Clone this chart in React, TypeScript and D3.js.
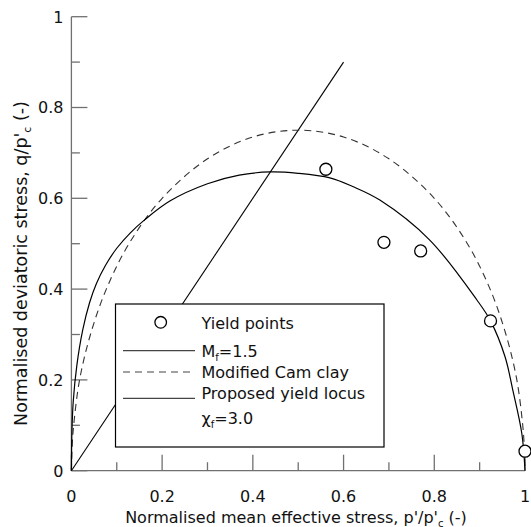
import * as d3 from "d3"

// axis ticks (normalised, 0..1)
const majorTicks = [0, 0.2, 0.4, 0.6, 0.8, 1]
const minorTicks = [0.1, 0.3, 0.5, 0.7, 0.9]

// measured yield points, p'/p'c and q/p'c
const yieldP = [0.561, 0.689, 0.77, 0.924, 1.0]
const yieldQ = [0.664, 0.503, 0.484, 0.33, 0.043]

// critical state line Mf = 1.5
const mfP = [0, 0.6]
const mfQ = [0, 0.9]

// modified Cam clay ellipse
const mccP = [0, 0.002, 0.005, 0.018, 0.042, 0.077, 0.127, 0.2, 0.3, 0.4, 0.5, 0.6, 0.7, 0.8, 0.873, 0.923, 0.958, 0.982, 0.995, 0.998, 1]
const mccQ = [0, 0.06, 0.1, 0.2, 0.3, 0.4, 0.5, 0.6, 0.687, 0.735, 0.75, 0.735, 0.687, 0.6, 0.5, 0.4, 0.3, 0.2, 0.1, 0.06, 0]

// proposed yield locus, chi_f = 3.0
const locusP = [0, 0.001, 0.004, 0.012, 0.025, 0.04, 0.055, 0.075, 0.1, 0.13, 0.162, 0.217, 0.3, 0.37, 0.438, 0.5, 0.57, 0.62, 0.68, 0.79, 0.894, 0.924, 0.956, 0.973, 0.993, 1]
const locusQ = [0, 0.08, 0.152, 0.232, 0.31, 0.37, 0.412, 0.452, 0.49, 0.524, 0.553, 0.594, 0.632, 0.651, 0.658, 0.655, 0.645, 0.626, 0.596, 0.508, 0.376, 0.33, 0.251, 0.178, 0.082, 0]

const W = 531
const H = 527
const FONT = "DejaVu Sans, Verdana, sans-serif"
const AXIS = "#707070"

export default function App() {
  const x = d3.scaleLinear().domain([0, 1]).range([71.4, 525])
  const y = d3.scaleLinear().domain([0, 1]).range([470.7, 16.7])

  const line = d3
    .line<[number, number]>()
    .x((d) => x(d[0]))
    .y((d) => y(d[1]))
    .curve(d3.curveCatmullRom.alpha(0.5))

  const straight = d3
    .line<[number, number]>()
    .x((d) => x(d[0]))
    .y((d) => y(d[1]))

  const mccPath = line(mccP.map((p, i) => [p, mccQ[i]])) as string
  const locusPath = line(locusP.map((p, i) => [p, locusQ[i]])) as string
  const mfPath = straight(mfP.map((p, i) => [p, mfQ[i]])) as string

  // legend box
  const lg = { x: 115.5, y: 304, w: 268.5, h: 143 }
  const lx0 = 123
  const lx1 = 195
  const tx = 201.5

  return (
    <svg
      width={W}
      height={H}
      style={{ position: "absolute", left: 0, top: 0, background: "#fff" }}
      fontFamily={FONT}
    >
      {/* axes */}
      <line x1={x(0)} x2={x(1)} y1={y(0)} y2={y(0)} stroke={AXIS} strokeWidth={1.3} />
      <line x1={x(0)} x2={x(0)} y1={y(0)} y2={y(1)} stroke={AXIS} strokeWidth={1.3} />
      {majorTicks.map((t) => (
        <g key={"mx" + t}>
          <line x1={x(t)} x2={x(t)} y1={y(0)} y2={y(0) - 16} stroke={AXIS} strokeWidth={1.3} />
          <text x={x(t)} y={501.5} textAnchor="middle" fontSize={16} fill="#111">
            {t === 0 || t === 1 ? t : t.toFixed(1)}
          </text>
        </g>
      ))}
      {minorTicks.map((t) => (
        <line key={"nx" + t} x1={x(t)} x2={x(t)} y1={y(0)} y2={y(0) - 8.5} stroke={AXIS} strokeWidth={1.3} />
      ))}
      {majorTicks.map((t) => (
        <g key={"my" + t}>
          <line x1={x(0)} x2={x(0) + 16} y1={y(t)} y2={y(t)} stroke={AXIS} strokeWidth={1.3} />
          <text x={63.5} y={y(t) + 5.8} textAnchor="end" fontSize={16} fill="#111">
            {t === 0 || t === 1 ? t : t.toFixed(1)}
          </text>
        </g>
      ))}
      {minorTicks.map((t) => (
        <line key={"ny" + t} x1={x(0)} x2={x(0) + 8.5} y1={y(t)} y2={y(t)} stroke={AXIS} strokeWidth={1.3} />
      ))}

      {/* axis titles */}
      <text x={296} y={522.5} textAnchor="middle" fontSize={16} fill="#111">
        Normalised mean effective stress, p'/p'
        <tspan fontSize={10} dy={4}>c</tspan>
        <tspan dy={-4}> (-)</tspan>
      </text>
      <text
        transform={`translate(26.5, 263.5) rotate(-90)`}
        textAnchor="middle"
        fontSize={17.5}
        fill="#111"
      >
        Normalised deviatoric stress, q/p'
        <tspan fontSize={11} dy={4}>c</tspan>
        <tspan dy={-4}> (-)</tspan>
      </text>

      {/* curves */}
      <path d={mfPath} fill="none" stroke="#000" strokeWidth={1.1} />
      <path d={mccPath} fill="none" stroke="#333" strokeWidth={1.1} strokeDasharray="7,5" />
      <path d={locusPath} fill="none" stroke="#000" strokeWidth={1.2} />
      {yieldP.map((p, i) => (
        <circle key={i} cx={x(p)} cy={y(yieldQ[i])} r={6} fill="#fff" stroke="#000" strokeWidth={1.3} />
      ))}

      {/* legend */}
      <rect x={lg.x} y={lg.y} width={lg.w} height={lg.h} fill="#fff" stroke="#000" strokeWidth={1.2} />
      <circle cx={160.7} cy={322.3} r={5.8} fill="#fff" stroke="#000" strokeWidth={1.3} />
      <text x={tx} y={329} fontSize={16} fill="#111">Yield points</text>
      <line x1={lx0} x2={lx1} y1={350.7} y2={350.7} stroke="#444" strokeWidth={1.2} />
      <text x={tx} y={357} fontSize={16} fill="#111">
        M<tspan fontSize={10} dy={4}>f</tspan>
        <tspan dy={-4}>=1.5</tspan>
      </text>
      <line x1={lx0} x2={lx1} y1={372} y2={372} stroke="#444" strokeWidth={1.2} strokeDasharray="7,5" />
      <text x={tx} y={377.5} fontSize={16} fill="#111">Modified Cam clay</text>
      <line x1={lx0} x2={lx1} y1={398.3} y2={398.3} stroke="#444" strokeWidth={1.2} />
      <text x={tx} y={399} fontSize={16} fill="#111">Proposed yield locus</text>
      <text x={tx} y={424} fontSize={16} fill="#111">
        χ<tspan fontSize={10} dy={4}>f</tspan>
        <tspan dy={-4}>=3.0</tspan>
      </text>
    </svg>
  )
}
